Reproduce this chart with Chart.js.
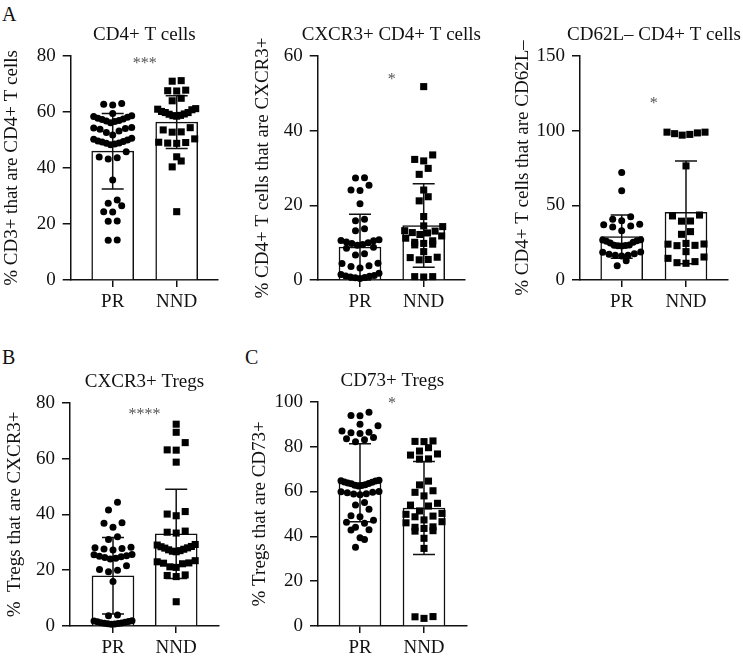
<!DOCTYPE html>
<html>
<head>
<meta charset="utf-8">
<script src="https://cdn.jsdelivr.net/npm/chart.js@4.4.1/dist/chart.umd.min.js"></script>
<style>
  body { margin: 0; background: #fff; width: 743px; height: 659px; position: relative; overflow: hidden; font-family: "Liberation Serif", serif; }
  canvas { position: absolute; }
  .letter { position: absolute; font-size: 20px; line-height: 1; color: #111; }
</style>
</head>
<body>
<div class="letter" style="left:2px;top:4px">A</div>
<div class="letter" style="left:2px;top:347px">B</div>
<div class="letter" style="left:245px;top:347px">C</div>
<script>
// groups on the x axis
const groups = ['PR', 'NND'];

// CD4+ T cells (% of CD3+)
const cd4PR = [63, 62.5, 62.8, 59.5, 58.7, 58.4, 58.1, 57.8, 57.3, 57, 56.6, 56.2, 56.8, 57.5,
  54.5, 54.3, 54.1, 53.8, 53.2, 52.7, 51.8, 50.6, 50.3, 50, 49.6, 49.3, 48.9, 48.6, 48.3, 48.8, 49.5,
  45.8, 43.7, 43.2, 43.9, 35.7, 28.6, 26.5, 27.4, 24.4, 24.3, 21.1, 21, 14.3, 14.2];
const cd4NND = [71.2, 71, 67.8, 67.5, 67.6, 64.9, 64, 61.2, 61, 60.8, 60.2, 59.8, 59.3, 58.8, 58.5,
  58.7, 59.2, 59.8, 53.6, 52.9, 52.8, 54.4, 50.4, 49.2, 48.9, 48.8, 49.1, 44, 42.5, 40.4, 24.4];
const cd4Mean = [46, 56.4];
const cd4SD = [13.5, 9.4];

// CXCR3+ CD4+ T cells
const cxcr3PR = [27.4, 27.3, 25.4, 24.1, 24, 20.4, 16.3, 15.9, 13.2, 13.7, 10.8, 10.5, 10.2, 9.8, 9.3,
  8.5, 8.8, 9.5, 10, 10.6, 6.7, 7, 4.5, 3.8, 3.2, 3.6, 4.4, 0.6, 0.8, 1, 1.2, 1.5, 0.4, 0.7, 1.1, 1.8];
const cxcr3NND = [51.8, 33.5, 32.3, 31.9, 29.9, 28.3, 24.1, 22.3, 21.2, 17, 14.5, 14.3, 13.2, 12.6,
  12.2, 11.8, 11.2, 10.5, 9.8, 9.4, 9.6, 10.1, 13.1, 12.7, 6, 5.4, 5.5, 6.1, 7.6, 0.9, 0.8, 0.9];
const cxcr3Mean = [8.8, 14.6];
const cxcr3SD = [8.8, 11.2];

// CD62L- CD4+ T cells
const cd62PR = [72, 59.8, 42.4, 40.6, 39.7, 37, 36.2, 35.5, 37.3, 33, 26.8, 26, 25.3, 24.8, 26.3, 27,
  23.2, 23, 23.4, 22.8, 23.1, 18.7, 17.2, 16.5, 16, 16.6, 17.5, 18.5, 12.9, 9.6];
const cd62NND = [99, 98.5, 97.5, 97, 98, 99, 76.4, 43.5, 42.9, 39.5, 39.4, 30.6, 32.4, 24.5, 24, 23,
  23.2, 24.1, 15.4, 19, 12.3, 11.2, 11.6, 14.5];
const cd62Mean = [29, 45.3];
const cd62SD = [14.5, 34.4];

// CXCR3+ Tregs
const tregCxPR = [44.3, 41.6, 37, 36.8, 35.4, 32, 31, 28, 27.6, 27.2, 27.8, 28.2, 25.6, 25.2, 24.8,
  24.3, 24, 24.5, 25, 25.5, 21.6, 20, 19.4, 20.2, 15.9, 3.9, 3.7, 1.8, 1.5, 1.2, 1, 0.8, 0.7, 0.9,
  1.1, 1.3, 1.6, 1.9, 0.6];
const tregCxNND = [72.3, 69.4, 65.7, 63.1, 63, 58.7, 41, 39.5, 40.1, 33.6, 33.3, 34, 29, 29.2, 28.5,
  28, 27.5, 27, 26.6, 26.8, 27.3, 27.9, 28.4, 23.4, 23, 21, 22.5, 22.3, 22.6, 21.2, 18.3, 17.7, 18.1, 8.7];
const tregCxMean = [18, 33];
const tregCxSD = [13.7, 16];

// CD73+ Tregs
const cd73PR = [95.3, 93.8, 93.7, 89.9, 89.3, 86.9, 86.4, 85.8, 84, 83, 83.5, 86.2, 82.2, 65, 64.6,
  64.2, 63.5, 63, 62.6, 62.8, 63.4, 64.1, 64.8, 62.4, 63.8, 60, 59.6, 59, 58.5, 58.8, 59.4, 59.8,
  53.9, 55.1, 52, 49.2, 48.7, 46.2, 47.2, 45.8, 42.8, 42.9, 44, 39.4, 38.6, 35.1];
const cd73NND = [82.2, 82.5, 82.3, 79.5, 78, 76.7, 76.2, 74.5, 74.4, 64.6, 62.9, 60.3, 59.6, 58,
  53.9, 53.5, 54.7, 51.3, 50.2, 49.8, 48.7, 49, 46.5, 46, 47.3, 44, 43.5, 42.3, 42.5, 44.2, 39.1,
  34.6, 4.2, 3.4, 4.1];
const cd73Mean = [63.9, 52.6];
const cd73SD = [17.4, 20.7];

const FONT = '"Liberation Serif", "Times New Roman", serif';
const INK = '#111';

// box = canvas [left, top, width, height]; area = plot [left, top, right, bottom]
const panels = [
  { title: 'CD4+ T cells', yTitle: '% CD3+ that are CD4+ T cells', pr: cd4PR, nnd: cd4NND,
    mean: cd4Mean, sd: cd4SD, yMax: 80, step: 20, stars: '***', starY: 78.2,
    box: [0, 0, 245, 320], area: [70.7, 56, 218, 280], centers: [112.7, 176.7], yTitleX: 12 },
  { title: 'CXCR3+ CD4+ T cells', yTitle: '% CD4+ T cells that are CXCR3+', pr: cxcr3PR, nnd: cxcr3NND,
    mean: cxcr3Mean, sd: cxcr3SD, yMax: 60, step: 20, stars: '*', starY: 54.3,
    box: [250, 0, 245, 320], area: [317.7, 56, 465, 280], centers: [360, 423.7], yTitleX: 263 },
  { title: 'CD62L\u2013 CD4+ T cells', yTitle: '% CD4+ T cells that are CD62L\u2013', pr: cd62PR, nnd: cd62NND,
    mean: cd62Mean, sd: cd62SD, yMax: 150, step: 50, stars: '*', starY: 120,
    box: [505, 0, 238, 320], area: [580, 56, 728, 280], centers: [621.7, 686], yTitleX: 523 },
  { title: 'CXCR3+ Tregs', yTitle: '%  Tregs that are CXCR3+', pr: tregCxPR, nnd: tregCxNND,
    mean: tregCxMean, sd: tregCxSD, yMax: 80, step: 20, stars: '****', starY: 76.8,
    box: [0, 330, 245, 329], area: [70, 402.7, 219, 626], centers: [113, 176.2], yTitleX: 15 },
  { title: 'CD73+ Tregs', yTitle: '% Tregs that are CD73+', pr: cd73PR, nnd: cd73NND,
    mean: cd73Mean, sd: cd73SD, yMax: 100, step: 20, stars: '*', starY: 100.3,
    box: [250, 330, 245, 329], area: [318, 401.7, 466.7, 626], centers: [360, 424], yTitleX: 260 }
];

// GraphPad-like scatter: bin close values into rows, spread each row around the group centre
function swarm(values, center, pxY, pxX) {
  const sorted = values.slice().sort((a, b) => a - b);
  const pts = [];
  let row = [];
  const flush = () => {
    const n = row.length;
    const gap = n > 1 ? Math.min(9, 38 / (n - 1)) : 0;
    const slots = [];
    for (let k = 0; k < n; k++) slots.push((k - (n - 1) / 2) * gap);
    slots.sort((a, b) => Math.abs(a) - Math.abs(b) || a - b);
    row.forEach((v, i) => pts.push({ x: center + slots[i] / pxX, y: v }));
    row = [];
  };
  sorted.forEach(v => {
    if (row.length && (v - row[0]) * pxY >= 8) flush();
    row.push(v);
  });
  flush();
  return pts;
}

function errorBars(p) {
  return {
    id: 'errorBars',
    afterDatasetDraw(chart, args) {
      if (args.meta.type !== 'bar') return;
      const { ctx, scales: { x, y } } = chart;
      ctx.save();
      ctx.strokeStyle = INK;
      ctx.lineWidth = 1.5;
      p.mean.forEach((m, i) => {
        const px = x.getPixelForValue(i + 1);
        const top = y.getPixelForValue(m + p.sd[i]);
        const bot = y.getPixelForValue(Math.max(0, m - p.sd[i]));
        ctx.beginPath();
        ctx.moveTo(px, top); ctx.lineTo(px, bot);
        ctx.moveTo(px - 11, top); ctx.lineTo(px + 11, top);
        ctx.moveTo(px - 11, bot); ctx.lineTo(px + 11, bot);
        ctx.stroke();
      });
      ctx.restore();
    }
  };
}

function decor(p) {
  return {
    id: 'decor',
    afterDraw(chart) {
      const { ctx, chartArea: a, scales: { x, y } } = chart;
      ctx.save();
      ctx.fillStyle = INK;
      ctx.font = '19px ' + FONT;
      ctx.textAlign = 'center';
      ctx.textBaseline = 'alphabetic';
      ctx.fillText(p.title, (a.left + a.right) / 2, a.top - 16);
      // rotated y-axis title
      ctx.save();
      ctx.translate(p.yTitleX - p.box[0], (a.top + a.bottom) / 2);
      ctx.rotate(-Math.PI / 2);
      ctx.textBaseline = 'middle';
      ctx.fillText(p.yTitle, 0, 0);
      ctx.restore();
      // significance stars
      ctx.fillStyle = '#555';
      ctx.font = '16px ' + FONT;
      ctx.fillText(p.stars, x.getPixelForValue(1.5), y.getPixelForValue(p.starY) + 7);
      ctx.restore();
    }
  };
}

panels.forEach(p => {
  const [bl, bt, bw, bh] = p.box;
  const [al, at, ar, ab] = p.area;
  const cv = document.createElement('canvas');
  cv.width = bw; cv.height = bh;
  cv.style.left = bl + 'px'; cv.style.top = bt + 'px';
  document.body.appendChild(cv);

  const pxX = p.centers[1] - p.centers[0];
  const pxY = (ab - at) / p.yMax;
  const xMin = 1 - (p.centers[0] - al) / pxX;
  const xMax = 2 + (ar - p.centers[1]) / pxX;

  new Chart(cv, {
    type: 'bar',
    data: {
      datasets: [
        {
          type: 'bar', order: 2,
          data: p.mean.map((m, i) => ({ x: i + 1, y: m })),
          backgroundColor: '#fff', borderColor: INK, borderWidth: 1.5, barThickness: 42
        },
        {
          type: 'scatter', order: 1, clip: false,
          data: swarm(p.pr, 1, pxY, pxX),
          pointStyle: 'circle', pointRadius: 3.5, backgroundColor: '#000', borderWidth: 0
        },
        {
          type: 'scatter', order: 1, clip: false,
          data: swarm(p.nnd, 2, pxY, pxX),
          pointStyle: 'rect', pointRadius: 5, backgroundColor: '#000', borderWidth: 0
        }
      ]
    },
    options: {
      responsive: false,
      animation: false,
      devicePixelRatio: 1,
      layout: { padding: { left: 0, top: at - bt, right: bl + bw - ar, bottom: 0 } },
      plugins: { legend: { display: false }, tooltip: { enabled: false } },
      scales: {
        x: {
          type: 'linear', min: xMin, max: xMax, offset: false,
          afterBuildTicks: s => { s.ticks = groups.map((g, i) => ({ value: i + 1 })); },
          afterFit: s => { s.height = bt + bh - ab; },
          ticks: { callback: (v, i) => groups[i], color: INK, font: { family: FONT, size: 19 },
                   padding: 4, autoSkip: false, maxRotation: 0 },
          grid: { offset: false, drawOnChartArea: false, tickLength: 7, color: INK, lineWidth: 1.5 },
          border: { color: INK, width: 1.5 }
        },
        y: {
          min: 0, max: p.yMax,
          afterFit: s => { s.width = al - bl; },
          ticks: { stepSize: p.step, color: INK, font: { family: FONT, size: 19 }, padding: 7 },
          grid: { drawOnChartArea: false, tickLength: 8, color: INK, lineWidth: 1.5 },
          border: { color: INK, width: 1.5 }
        }
      }
    },
    plugins: [errorBars(p), decor(p)]
  });
});
</script>
</body>
</html>
